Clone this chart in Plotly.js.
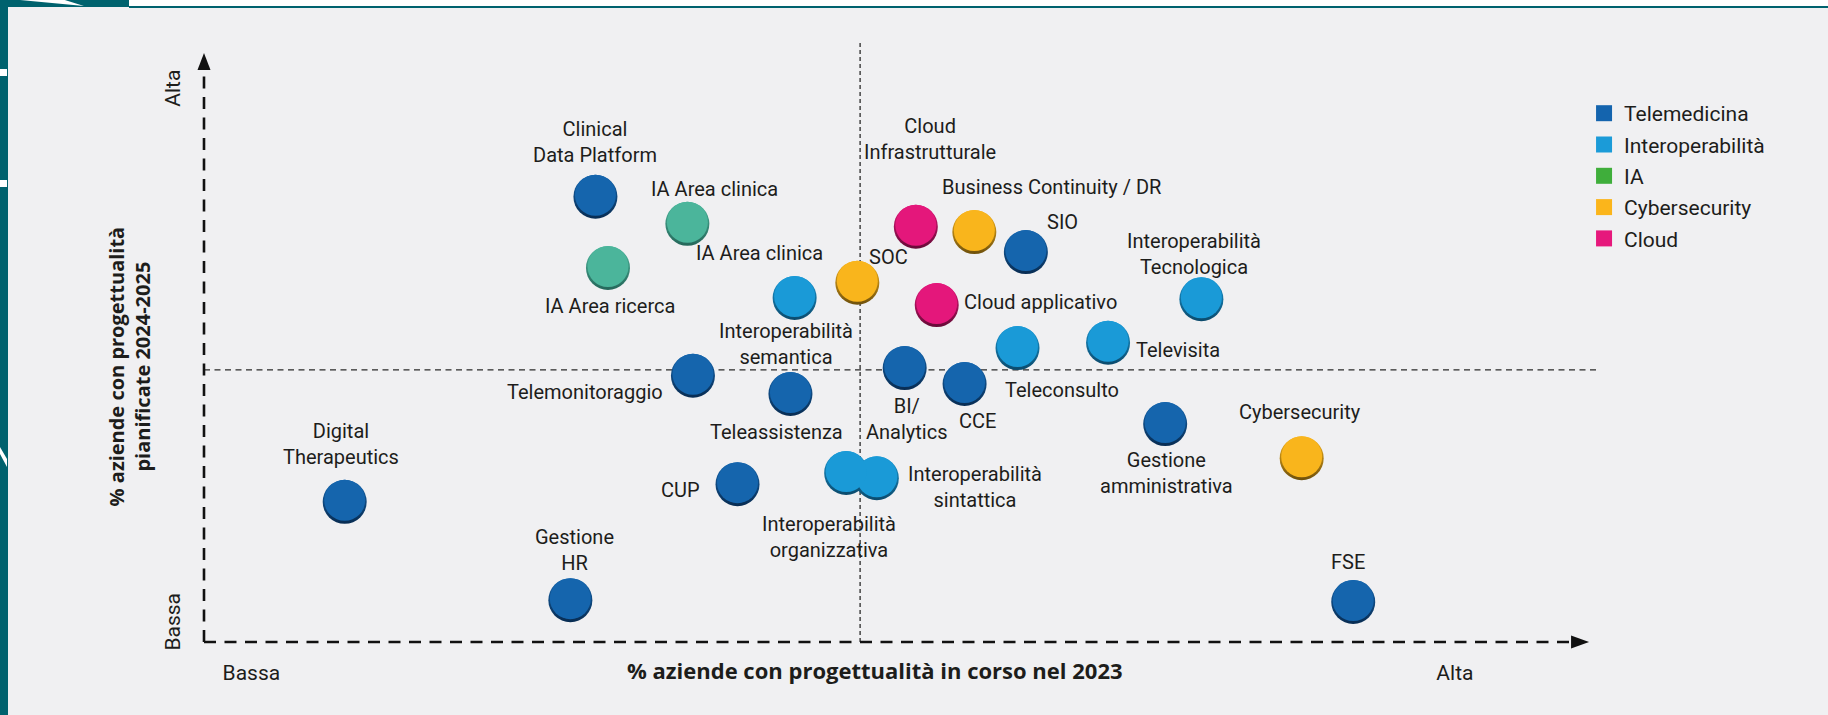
<!DOCTYPE html>
<html>
<head>
<meta charset="utf-8">
<script src="https://cdn.plot.ly/plotly-3.0.1.min.js"></script>
<style>
    html, body { margin: 0; padding: 0; background: #f0f0f2; }
    #pagina { position: relative; width: 1828px; height: 715px; overflow: hidden; }
    #grafico { width: 1828px; height: 715px; }
    .deco { position: absolute; }
</style>
</head>
<body>
<div id="pagina">
    <div id="grafico"></div>
    <!-- cornice del report -->
    <div class="deco" style="left:129px; top:0; width:1699px; height:6px; background:#ffffff;"></div>
    <div class="deco" style="left:129px; top:6px; width:1699px; height:1.5px; background:#00626e;"></div>
    <div class="deco" style="left:0; top:0; width:129px; height:7px; background:#00626e;"></div>
    <div class="deco" style="left:20px; top:0; width:64px; height:6px; background:#ffffff; clip-path: polygon(0 0, 70% 0, 100% 100%);"></div>
    <div class="deco" style="left:0; top:0; width:8px; height:715px; background:#00626e;"></div>
    <div class="deco" style="left:0; top:69px; width:7px; height:7px; background:#ffffff;"></div>
    <div class="deco" style="left:0; top:180px; width:7px; height:7px; background:#ffffff;"></div>
    <div class="deco" style="left:0; top:447px; width:7px; height:20px; background:#ffffff; clip-path: polygon(0 0, 100% 60%, 100% 100%, 0 35%);"></div>
</div>
<script>
// Categorie della legenda
const categorie = ['Telemedicina', 'Interoperabilità', 'IA', 'Cybersecurity', 'Cloud'];

// Tecnologie (etichetta), categoria e posizione stimata sui due assi (0 = bassa, 100 = alta)
const tecnologie = [
    'Clinical<br>Data Platform', 'SIO', 'Telemonitoraggio', 'Teleassistenza', 'BI/<br>Analytics',
    'CCE', 'Gestione<br>amministrativa', 'Digital<br>Therapeutics', 'CUP', 'Gestione<br>HR', 'FSE',
    'Interoperabilità<br>semantica', 'Teleconsulto', 'Televisita', 'Interoperabilità<br>Tecnologica',
    'Interoperabilità<br>sintattica', 'Interoperabilità<br>organizzativa',
    'IA Area clinica', 'IA Area ricerca',
    'Business Continuity / DR', 'SOC', 'Cybersecurity',
    'Cloud<br>Infrastrutturale', 'Cloud applicativo'
];
const categoriaTecnologia = [
    'Telemedicina', 'Telemedicina', 'Telemedicina', 'Telemedicina', 'Telemedicina',
    'Telemedicina', 'Telemedicina', 'Telemedicina', 'Telemedicina', 'Telemedicina', 'Telemedicina',
    'Interoperabilità', 'Interoperabilità', 'Interoperabilità', 'Interoperabilità',
    'Interoperabilità', 'Interoperabilità',
    'IA', 'IA',
    'Cybersecurity', 'Cybersecurity', 'Cybersecurity',
    'Cloud', 'Cloud'
];
// % aziende con progettualità in corso nel 2023
const inCorso2023 = [
    28.1, 59.0, 35.1, 42.1, 50.3,
    54.6, 69.0, 10.1, 38.3, 26.3, 82.5,
    42.4, 58.4, 64.9, 71.6,
    48.3, 46.1,
    34.7, 29.0,
    55.3, 46.9, 78.8,
    51.1, 52.6
];
// % aziende con progettualità pianificate 2024-2025
const pianificate = [
    75.6, 66.2, 45.2, 42.1, 46.5,
    43.8, 37.0, 23.8, 26.8, 7.1, 6.8,
    58.4, 49.9, 50.8, 58.2,
    27.8, 28.7,
    71.0, 63.5,
    69.6, 61.0, 31.2,
    70.5, 57.2
];

// Etichette degli assi
const xTickVals = [3.4, 89.8];
const xTickText = ['Bassa', 'Alta'];
const yTickVals = [2.9, 93.5];
const yTickText = ['Bassa', 'Alta'];
const xMedia = 47.1;
const yMedia = 46.2;

// Stile
const coloriBolla = {
    'Telemedicina': '#1565ad', 'Interoperabilità': '#1a9ad7', 'IA': '#4bb59b',
    'Cybersecurity': '#f9b51c', 'Cloud': '#e4177b'
};
const coloriOmbra = {
    'Telemedicina': '#082c52', 'Interoperabilità': '#0b4a6c', 'IA': '#25675a',
    'Cybersecurity': '#6e500c', 'Cloud': '#650a36'
};
const coloriLegenda = ['#1464ae', '#1b9bd8', '#3fae3b', '#fbb51b', '#e6187c'];

// spostamento (px) e ancoraggio di ogni etichetta rispetto alla sua bolla
const posEtichetta = [
    [0, -55, 'center'], [37, -30, 'center'], [-28, 16, 'right'], [-14, 38, 'center'], [2, 51, 'center'],
    [12.5, 37, 'center'], [1, 49, 'center'], [-3.4, -58, 'center'], [-35.5, 6, 'right'], [4.5, -50, 'center'], [-5, -40, 'center'],
    [-9, 46, 'center'], [44, 42, 'center'], [26, 7, 'left'], [-7, -45, 'center'],
    [29, 8.5, 'left'], [-17, 64.5, 'center'],
    [27, -35, 'center'], [2, 38, 'center'],
    [77, -45, 'center'], [31, -26, 'center'], [-2, -46, 'center'],
    [14, -87.5, 'center'], [25, -3, 'left']
];

const ML = 204, MR = 231, MT = 53, MB = 73;
const altezzaPlot = 715 - MT - MB;
const font = { family: 'Roboto, sans-serif', size: 20, color: '#1d1d1b' };
const fontTitolo = { family: '"Open Sans", sans-serif', size: 20, color: '#1d1d1b' };

const data = [];
categorie.forEach(function (cat) {
    const idx = categoriaTecnologia.map(function (c, i) { return c === cat ? i : -1; }).filter(function (i) { return i >= 0; });
    const xs = idx.map(function (i) { return inCorso2023[i]; });
    const ys = idx.map(function (i) { return pianificate[i]; });
    // ombra inferiore della bolla
    data.push({
        x: xs, y: ys, type: 'scatter', mode: 'markers', showlegend: false, hoverinfo: 'skip',
        marker: { size: 44, color: coloriBolla[cat], gradient: { type: 'vertical', color: coloriOmbra[cat] }, line: { width: 0 } }
    });
    // bolla
    data.push({
        x: xs, y: ys.map(function (v) { return v + 1.5 * 100 / altezzaPlot; }),
        type: 'scatter', mode: 'markers', showlegend: false, hoverinfo: 'skip',
        marker: { size: 41, color: coloriBolla[cat], line: { width: 0 } }
    });
});

// voci di legenda (quadrati)
categorie.forEach(function (cat, k) {
    data.push({
        x: [null], y: [null], type: 'scatter', mode: 'markers', name: cat, legendgroup: cat,
        marker: { symbol: 'square', size: 17, color: coloriLegenda[k] }
    });
});

const annotations = tecnologie.map(function (t, i) {
    return {
        x: inCorso2023[i], y: pianificate[i], xref: 'x', yref: 'y', text: t, showarrow: false,
        xshift: posEtichetta[i][0], yshift: -posEtichetta[i][1], xanchor: posEtichetta[i][2], yanchor: 'middle',
        font: font
    };
});
// seconda etichetta vicino a "Interoperabilità semantica"
annotations.push({
    x: inCorso2023[11], y: pianificate[11], xref: 'x', yref: 'y', text: 'IA Area clinica', showarrow: false,
    xshift: -35, yshift: 45, xanchor: 'center', yanchor: 'middle', font: font
});
// titoli degli assi
annotations.push({
    x: 0.4817, y: -0.0475, xref: 'paper', yref: 'paper', showarrow: false, xanchor: 'center', yanchor: 'middle',
    text: '<b>% aziende con progettualità in corso nel 2023</b>',
    font: { family: fontTitolo.family, size: 22, color: fontTitolo.color }
});
annotations.push({
    x: -0.0538, y: 0.468, xref: 'paper', yref: 'paper', showarrow: false, xanchor: 'center', yanchor: 'middle',
    textangle: -90, text: '<b>% aziende con progettualità<br>pianificate 2024-2025</b>',
    font: fontTitolo
});

const shapes = [
    // assi tratteggiati
    { type: 'line', xref: 'paper', yref: 'paper', x0: 0, x1: 0.9813, y0: 0, y1: 0, line: { color: '#111', width: 2.6, dash: '12px,8.5px' } },
    { type: 'line', xref: 'paper', yref: 'paper', x0: 0, x1: 0, y0: 0, y1: 0.9711, line: { color: '#111', width: 2.6, dash: '12px,8.5px' } },
    // frecce
    { type: 'path', xref: 'paper', yref: 'paper', xsizemode: 'pixel', ysizemode: 'pixel', xanchor: 0.9943, yanchor: 0,
      path: 'M -18 -6.5 L -18 6.5 L 0 0 Z', fillcolor: '#111', line: { width: 0 } },
    { type: 'path', xref: 'paper', yref: 'paper', xsizemode: 'pixel', ysizemode: 'pixel', xanchor: 0, yanchor: 1,
      path: 'M -6.5 -17 L 6.5 -17 L 0 0 Z', fillcolor: '#111', line: { width: 0 } },
    // linee mediane
    { type: 'line', xref: 'x', yref: 'paper', x0: xMedia, x1: xMedia, y0: 0, y1: 1.017, layer: 'below', line: { color: '#2a2a2a', width: 1.3, dash: '4px,3px' } },
    { type: 'line', xref: 'paper', yref: 'y', x0: 0, x1: 1, y0: yMedia, y1: yMedia, layer: 'below', line: { color: '#2a2a2a', width: 1.3, dash: '6px,4.5px' } }
];

const layout = {
    width: 1828, height: 715,
    margin: { l: ML, r: MR, t: MT, b: MB, pad: 0 },
    paper_bgcolor: '#f0f0f2', plot_bgcolor: '#f0f0f2',
    font: font,
    showlegend: true,
    legend: {
        x: 0.9907, xanchor: 'left', y: 0.932, yanchor: 'top',
        bgcolor: 'rgba(0,0,0,0)', font: { family: font.family, size: 21, color: font.color }, tracegroupgap: 1
    },
    xaxis: {
        range: [0, 100], showgrid: false, zeroline: false, showline: false, ticks: '',
        tickvals: xTickVals, ticktext: xTickText, ticklabelstandoff: 16, fixedrange: true,
        tickfont: { family: font.family, size: 21, color: font.color }
    },
    yaxis: {
        range: [0, 100], showgrid: false, zeroline: false, showline: false, ticks: '',
        tickvals: yTickVals, ticktext: yTickText, tickangle: -90, ticklabelstandoff: 19, fixedrange: true,
        tickfont: { family: font.family, size: 21, color: font.color }
    },
    shapes: shapes,
    annotations: annotations
};

Plotly.newPlot('grafico', data, layout, { displayModeBar: false, staticPlot: true });
</script>
</body>
</html>
